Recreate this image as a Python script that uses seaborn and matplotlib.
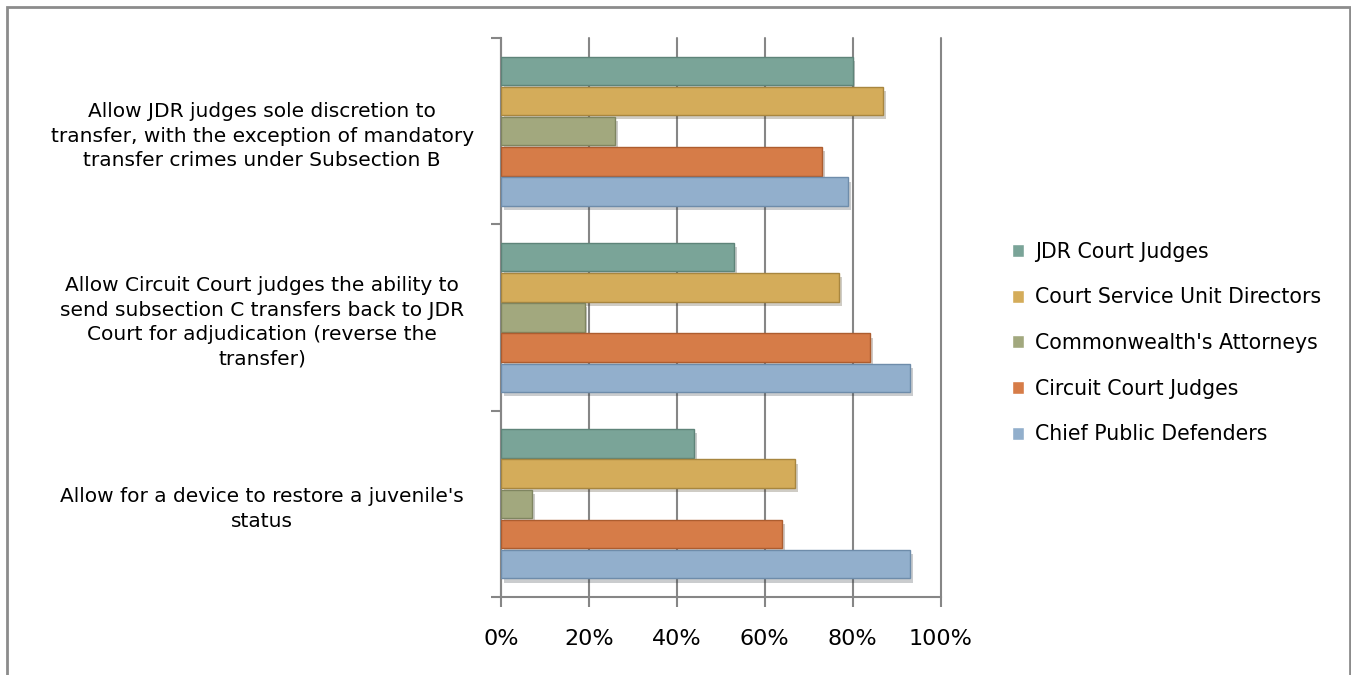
import pandas as pd
import matplotlib.pyplot as plt
import matplotlib.patheffects as pe
from matplotlib.patches import Rectangle
from matplotlib.ticker import PercentFormatter, FixedLocator
import seaborn as sns

# data (percent of respondents)
questions = [
    "Allow JDR judges sole discretion to\ntransfer, with the exception of mandatory\ntransfer crimes under Subsection B",
    "Allow Circuit Court judges the ability to\nsend subsection C transfers back to JDR\nCourt for adjudication (reverse the\ntransfer)",
    "Allow for a device to restore a juvenile's\nstatus",
]
groups = ["JDR Court Judges", "Court Service Unit Directors", "Commonwealth's Attorneys",
          "Circuit Court Judges", "Chief Public Defenders"]
jdr_judges = [80, 53, 44]
csu_directors = [87, 77, 67]
cw_attorneys = [26, 19, 7]
circuit_judges = [73, 84, 64]
public_defenders = [79, 93, 93]
colors = ["#7AA498", "#D4AC5A", "#A2A87E", "#D67C48", "#92AFCC"]

series = [jdr_judges, csu_directors, cw_attorneys, circuit_judges, public_defenders]
rows = []
for g, vals in zip(groups, series):
    for q, v in zip(questions, vals):
        rows.append({"question": q, "group": g, "pct": v})
df = pd.DataFrame(rows)

sns.set_style("white")
plt.rcParams['font.family'] = ['DejaVu Sans']
plt.rcParams['text.color'] = 'black'
plt.rcParams['xtick.labelcolor'] = 'black'
plt.rcParams['ytick.labelcolor'] = 'black'

fig = plt.figure(figsize=(13.51, 6.75), dpi=100)
ax = fig.add_axes([501 / 1351, 1 - 597 / 675, 439.5 / 1351, 559 / 675])

sns.barplot(data=df, y="question", x="pct", hue="group", order=questions,
            hue_order=groups, palette=colors, saturation=1, orient="h",
            width=0.81, gap=0.06, ax=ax)

darker = ["#5E8479", "#A8863F", "#7F8560", "#AD5D2F", "#6E8CAA"]
for cont, ec in zip(ax.containers, darker):
    for bar in cont:
        bar.set_zorder(3)
        bar.set_edgecolor(ec)
        bar.set_linewidth(1.0)
        bar.set_path_effects([pe.SimplePatchShadow(offset=(2, -3), alpha=0.25),
                              pe.Normal()])

ax.set_xlim(0, 100)
ax.set_ylim(2.5, -0.5)
ax.xaxis.set_major_locator(FixedLocator([0, 20, 40, 60, 80, 100]))
ax.xaxis.set_major_formatter(PercentFormatter(decimals=0))
ax.set_axisbelow(True)
ax.grid(axis="x", color="#868686", linewidth=1.5)
for gl in ax.get_xgridlines():
    gl.set_clip_on(False)
    gl.set_zorder(0.5)
ax.set_xlabel("")
ax.set_ylabel("")

for s in ["top", "right"]:
    ax.spines[s].set_visible(False)
for s in ["left", "bottom"]:
    ax.spines[s].set_color("#868686")
    ax.spines[s].set_linewidth(1.5)

ax.tick_params(axis="x", length=7, width=1.5, color="#868686", pad=16, labelsize=16,
               direction="out", bottom=True)
ax.yaxis.set_minor_locator(FixedLocator([-0.5, 0.5, 1.5, 2.5]))
ax.tick_params(axis="y", which="minor", length=7, width=1.5, color="#868686", left=True)
ax.tick_params(axis="y", which="major", length=0, pad=172, labelsize=14.5)
for lbl in ax.get_yticklabels():
    lbl.set_horizontalalignment("center")
    lbl.set_linespacing(1.38)

ax.legend(loc="center left", bbox_to_anchor=(993 / 1351, 1 - 343 / 675),
          bbox_transform=fig.transFigure, frameon=False, fontsize=14.8,
          labelspacing=1.25, handlelength=0.6, handleheight=0.6, handletextpad=0.55)

fig.patches.append(Rectangle((7 / 1351, -0.05), 1343 / 1351, 1.05 - 7 / 675,
                             transform=fig.transFigure, fill=False,
                             edgecolor="#8C8C8C", linewidth=2))

fig.savefig("out.png", dpi=100)
